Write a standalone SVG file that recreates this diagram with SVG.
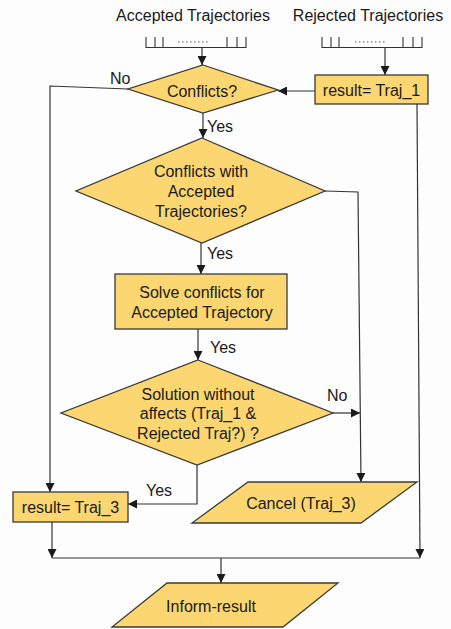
<svg xmlns="http://www.w3.org/2000/svg" width="451" height="629" viewBox="0 0 451 629">
  <style>
    .shape { fill: #fcd670; stroke: #3a3a3a; stroke-width: 1.3; }
    .lbl { font-family: "Liberation Sans", Arial, sans-serif; font-size: 16px; fill: #1a1a1a; }
    .mid { text-anchor: middle; }
    .wire { fill: none; stroke: #333; stroke-width: 1.2; }
    .queue { fill: none; stroke: #333; stroke-width: 1.1; }
    .dots { fill: none; stroke: #555; stroke-width: 1; stroke-dasharray: 1.5 2.5; }
  </style>
  <defs>
    <marker id="arr" viewBox="0 0 10 10" refX="10" refY="5" markerWidth="9" markerHeight="9" markerUnits="userSpaceOnUse" orient="auto">
      <path d="M0,0 L10,5 L0,10 z" fill="#1a1a1a"/>
    </marker>
  </defs>
  <rect width="451" height="629" fill="#fdfdfd"/>

  <!-- input queues -->
  <g id="accepted-queue">
    <text class="lbl mid" x="193" y="21">Accepted Trajectories</text>
    <path class="queue" d="M146,37 V47.5 H246 V37 M155,37 V47.5 M163,37 V47.5 M227,37 V47.5 M237,37 V47.5"/>
    <path class="dots" d="M178,42 H208"/>
  </g>
  <g id="rejected-queue">
    <text class="lbl mid" x="368" y="21">Rejected Trajectories</text>
    <path class="queue" d="M322,37 V47.5 H422 V37 M331,37 V47.5 M339,37 V47.5 M403,37 V47.5 M413,37 V47.5"/>
    <path class="dots" d="M355,42 H385"/>
  </g>

  <!-- connectors -->
  <g id="connectors">
    <path class="wire" d="M202,48 V65" marker-end="url(#arr)"/>
    <path class="wire" d="M385,48 V75" marker-end="url(#arr)"/>
    <path class="wire" d="M315,91 H278" marker-end="url(#arr)"/>
    <path class="wire" d="M128,89 L50,86 V492" marker-end="url(#arr)"/>
    <path class="wire" d="M203,113 V138" marker-end="url(#arr)"/>
    <path class="wire" d="M325,191 L358,192 L361,482" marker-end="url(#arr)"/>
    <path class="wire" d="M201,243 V274" marker-end="url(#arr)"/>
    <path class="wire" d="M198,329 V360" marker-end="url(#arr)"/>
    <path class="wire" d="M333,413 H360" marker-end="url(#arr)"/>
    <path class="wire" d="M197,465 V504 H128" marker-end="url(#arr)"/>
    <path class="wire" d="M52,522 V558" marker-end="url(#arr)"/>
    <path class="wire" d="M417,104 L420,558" marker-end="url(#arr)"/>
    <path class="wire" d="M52,558 H420"/>
    <path class="wire" d="M221,558 V583" marker-end="url(#arr)"/>
    <text class="lbl" x="110" y="84">No</text>
    <text class="lbl" x="207" y="132">Yes</text>
    <text class="lbl" x="207" y="259">Yes</text>
    <text class="lbl" x="210" y="353">Yes</text>
    <text class="lbl" x="327" y="401">No</text>
    <text class="lbl" x="146" y="496">Yes</text>
  </g>

  <!-- process nodes -->
  <g id="result-traj1">
    <rect class="shape" x="315" y="75" width="113" height="29"/>
    <text class="lbl mid" x="371.5" y="96">result= Traj_1</text>
  </g>
  <g id="conflicts">
    <polygon class="shape" points="203,65 278,90 203,113 128,89"/>
    <text class="lbl mid" x="202" y="97">Conflicts?</text>
  </g>
  <g id="conflicts-accepted">
    <polygon class="shape" points="202,138 325,191 202,243 76,191"/>
    <text class="lbl mid" x="201" y="177">Conflicts with</text>
    <text class="lbl mid" x="201" y="197">Accepted</text>
    <text class="lbl mid" x="201" y="217">Trajectories?</text>
  </g>
  <g id="solve">
    <rect class="shape" x="115" y="274" width="172" height="55"/>
    <text class="lbl mid" x="202" y="298">Solve conflicts for</text>
    <text class="lbl mid" x="202" y="318">Accepted Trajectory</text>
  </g>
  <g id="solution-check">
    <polygon class="shape" points="198,360 333,413 197,465 61,413"/>
    <text class="lbl mid" x="198" y="400">Solution without</text>
    <text class="lbl mid" x="198" y="419">affects (Traj_1 &amp;</text>
    <text class="lbl mid" x="198" y="439">Rejected Traj?) ?</text>
  </g>
  <g id="result-traj3">
    <rect class="shape" x="13" y="492" width="115" height="30"/>
    <text class="lbl mid" x="70.5" y="513">result= Traj_3</text>
  </g>
  <g id="cancel">
    <polygon class="shape" points="248,482 417,482 361,523 192,523"/>
    <text class="lbl mid" x="301" y="509">Cancel (Traj_3)</text>
  </g>
  <g id="inform-result">
    <polygon class="shape" points="167,583 338,583 283,627 112,627"/>
    <text class="lbl mid" x="211" y="612">Inform-result</text>
  </g>
</svg>
